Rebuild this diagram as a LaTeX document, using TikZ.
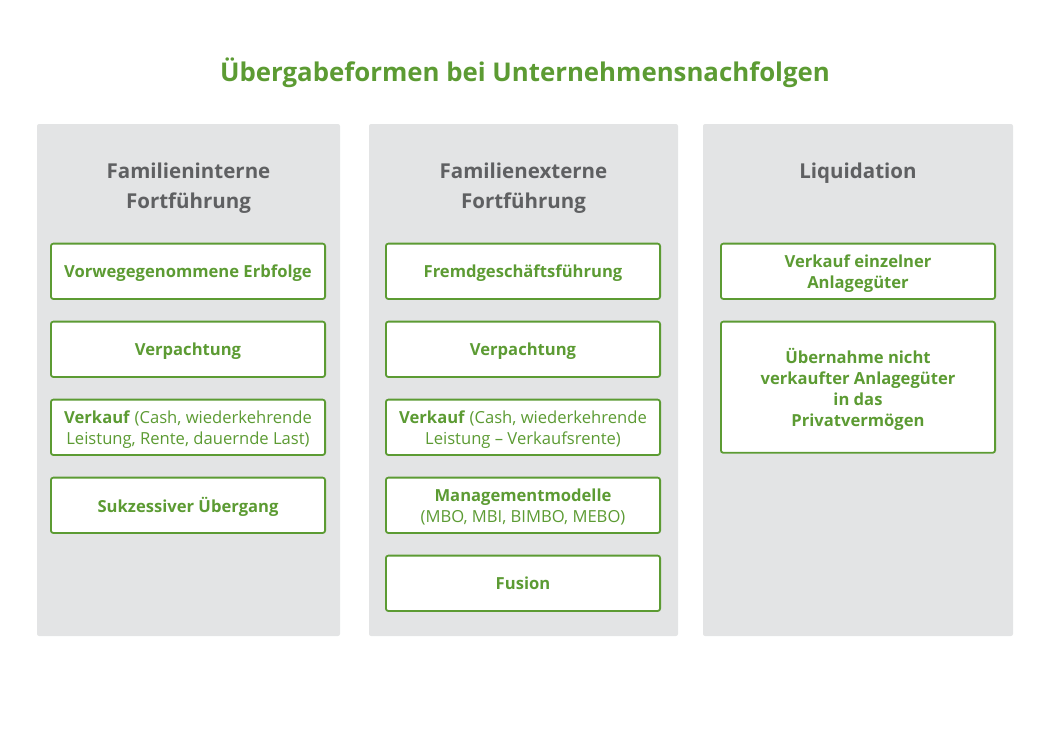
\documentclass[tikz,border=0pt]{standalone}
\usepackage{fontspec}
\setmainfont{Open Sans}
\usepackage{tikz}
\usetikzlibrary{positioning}
\usepackage{xcolor}

\definecolor{leafgreen}{HTML}{5C9B33}
\definecolor{panelgray}{HTML}{E3E4E5}
\definecolor{headgray}{HTML}{5F6062}

\begin{document}
\begin{tikzpicture}[x=1pt, y=-1pt,
    panel/.style={fill=panelgray, rounded corners=2pt, minimum width=303pt, minimum height=512pt, inner sep=0pt},
    head/.style={text=headgray, font=\fontsize{20.5}{30}\selectfont\bfseries, align=center},
    formbox/.style={draw=leafgreen, line width=1.8pt, fill=white, rounded corners=2.5pt,
      minimum width=274.2pt, minimum height=55.4pt, inner sep=0pt, outer sep=0pt, text=leafgreen,
      text depth=0pt, font=\fontsize{16.6}{21}\selectfont, align=center},
    node distance=22.6pt,
  ]
  \useasboundingbox (0,0) rectangle (1050,742);

  \node[text=leafgreen, font=\fontsize{25.8}{30}\selectfont\bfseries] (title) at (525,73)
    {Übergabeformen bei Unternehmensnachfolgen};

  % panels
  \node[panel] (panelA) at (188.5,380) {};
  \node[panel, minimum width=309pt] (panelB) at (523.5,380) {};
  \node[panel, minimum width=310pt] (panelC) at (858,380) {};

  \node[head] (headA) at (188.5,188.5) {Familieninterne\\Fortführung};
  \node[head] (headB) at (523.5,188.5) {Familienexterne\\Fortführung};
  \node[head] (headC) at (858,173.5) {Liquidation};

  % Familieninterne Fortführung
  \node[formbox] (inA1) at (188,271.3) {\bfseries Vorwegegenommene Erbfolge};
  \node[formbox, below=of inA1] (inA2) {\bfseries Verpachtung};
  \node[formbox, below=of inA2] (inA3) {\textbf{Verkauf} (Cash, wiederkehrende\\Leistung, Rente, dauernde Last)};
  \node[formbox, below=of inA3] (inA4) {\bfseries Sukzessiver Übergang};

  % Familienexterne Fortführung
  \node[formbox] (exB1) at (523,271.3) {\bfseries Fremdgeschäftsführung};
  \node[formbox, below=of exB1] (exB2) {\bfseries Verpachtung};
  \node[formbox, below=of exB2] (exB3) {\textbf{Verkauf} (Cash, wiederkehrende\\Leistung -- Verkaufsrente)};
  \node[formbox, below=of exB3] (exB4) {\textbf{Managementmodelle}\\(MBO, MBI, BIMBO, MEBO)};
  \node[formbox, below=of exB4] (exB5) {\bfseries Fusion};

  % Liquidation
  \node[formbox] (liC1) at (858,271.3) {\bfseries Verkauf einzelner\\\bfseries Anlagegüter};
  \node[formbox, minimum height=131.2pt, below=of liC1] (liC2)
    {\bfseries Übernahme nicht\\\bfseries verkaufter Anlagegüter\\\bfseries in das\\\bfseries Privatvermögen};
\end{tikzpicture}
\end{document}
